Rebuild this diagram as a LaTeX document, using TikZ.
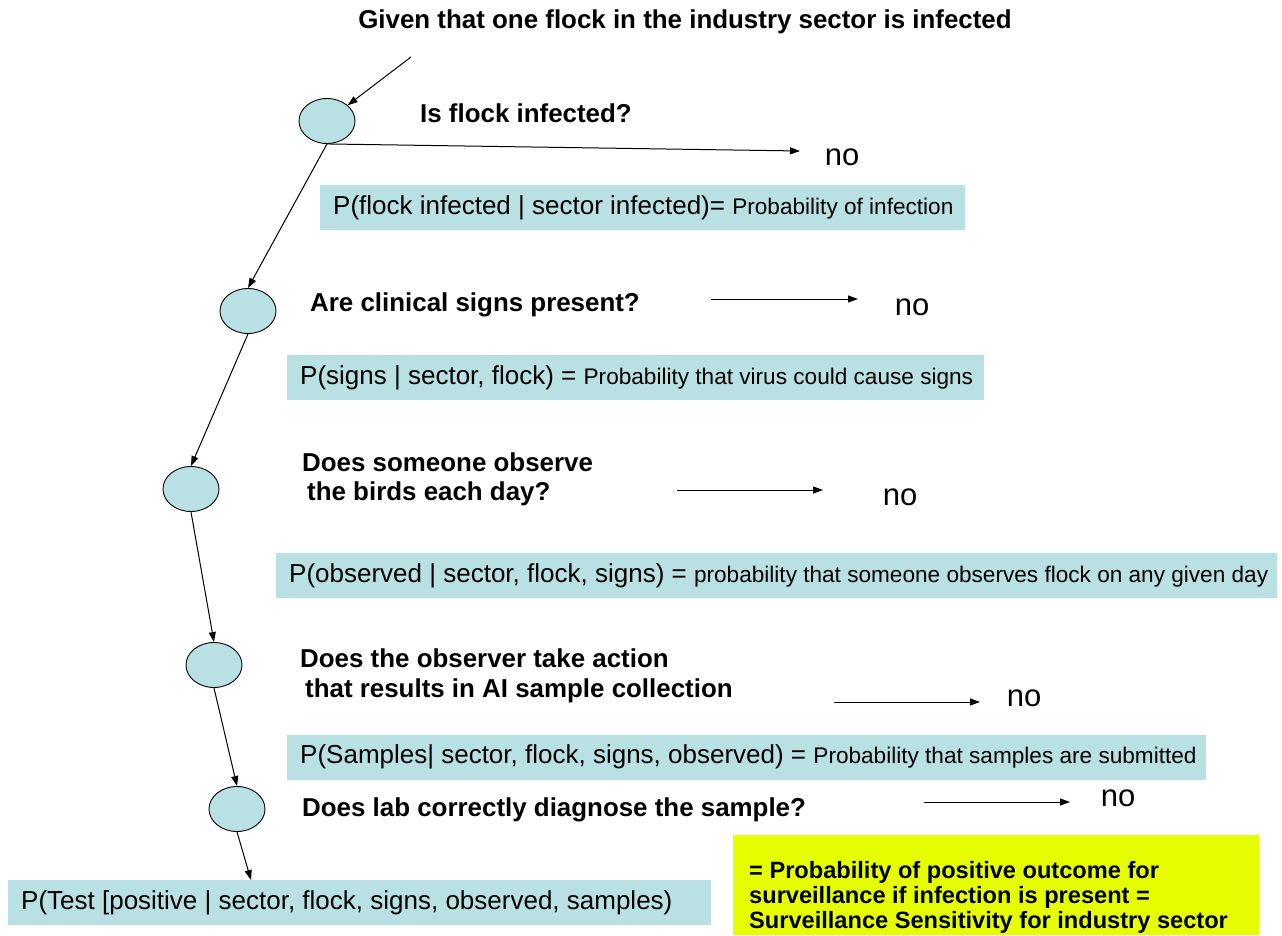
\documentclass[tikz,border=0pt]{standalone}
\usepackage{fontspec}
\setmainfont{Liberation Sans}
\usetikzlibrary{arrows.meta,shapes.geometric}
\definecolor{boxc}{RGB}{185,224,227}
\definecolor{yelc}{RGB}{229,255,0}
\newcommand\lgf{\fontsize{26}{30}\selectfont}
\newcommand\smf{\fontsize{22.6}{26}\selectfont}
\newcommand\qf{\fontsize{25.9}{29.5}\selectfont}
\newcommand\nsp{\spaceskip=0pt\xspaceskip=0pt\relax}
\begin{document}
\begin{tikzpicture}[x=1pt,y=-1pt,
  flock/.style={ellipse, draw, fill=boxc, minimum width=56pt, minimum height=45pt, inner sep=0pt, line width=0.9pt},
  q/.style={font=\bfseries\qf, anchor=west, inner sep=0pt, align=left},
  nolab/.style={font=\fontsize{31}{36}\selectfont, inner sep=0pt},
  pbox/.style={fill=boxc, font=\lgf, anchor=west, inner xsep=13pt, inner ysep=0pt, minimum height=45pt, align=left},
  conn/.style={line width=1pt, -{Triangle[length=10pt,width=7pt]}}]
\useasboundingbox (0,0) rectangle (1282,936);

% title
\node[font=\bfseries\qf, inner sep=0pt] (title) at (685,22) {Given that one flock in the industry sector is infected};

% flock nodes
\node[flock] (e1) at (327,121) {};
\node[flock] (e2) at (248,311) {};
\node[flock] (e3) at (191,489) {};
\node[flock] (e4) at (214,665) {};
\node[flock] (e5) at (237,809) {};

\coordinate (tstart) at (411,57);
\draw[conn] (tstart) -- (e1);

% step 1
\node[q] (q1) at (420,113) {\nsp Is flock infected?};
\coordinate (n1e) at (800,151);
\draw[conn] (e1.south) -- (n1e);
\node[nolab] (no1) at (842,157) {no};
\node[pbox, text width=619pt] (b1) at (320,207.5) {\nsp\mbox{\lgf P(flock infected | sector infected)= \smf Probability of infection}};
\draw[conn] (e1.south) -- (e2.north);

% step 2
\node[q] (q2) at (310,305) {\nsp Are clinical signs present?};
\coordinate (n2s) at (711,299);
\coordinate (n2e) at (858,299);
\draw[conn] (n2s) -- (n2e);
\node[nolab] (no2) at (912,307) {no};
\node[pbox, text width=671pt] (b2) at (287,377.5) {\nsp\mbox{\lgf P(signs | sector, flock) = \smf Probability that virus could cause signs}};
\draw[conn] (e2.south) -- (e3.north);

% step 3
\node[q] (q3) at (302,479.5) {\nsp Does someone observe\\\hspace*{5pt}the birds each day?};
\coordinate (n3s) at (677,490);
\coordinate (n3e) at (823,490);
\draw[conn] (n3s) -- (n3e);
\node[nolab] (no3) at (900,497) {no};
\node[pbox, text width=975pt] (b3) at (276,575.5) {\nsp\mbox{\lgf P(observed | sector, flock, signs) = \smf probability that someone observes flock on any given day}};
\draw[conn] (e3.south) -- (e4.north);

% step 4
\node[q] (q4) at (300,676) {\nsp Does the observer take action\\\hspace*{5pt}that results in AI sample collection};
\coordinate (n4s) at (834,702);
\coordinate (n4e) at (980,702);
\draw[conn] (n4s) -- (n4e);
\node[nolab] (no4) at (1024,698) {no};
\node[pbox, text width=893pt] (b4) at (287,757) {\nsp\mbox{\lgf P(Samples| sector, flock, signs, observed) = \smf Probability that samples are submitted}};
\draw[conn] (e4.south) -- (e5.north);

% step 5
\node[q] (q5) at (302,810) {\nsp Does lab correctly diagnose the sample?};
\coordinate (n5s) at (924,802);
\coordinate (n5e) at (1070,802);
\draw[conn] (n5s) -- (n5e);
\node[nolab] (no5) at (1118,798) {no};

% result
\node[pbox, text width=677pt] (b5) at (8,902.5) {\nsp\mbox{\lgf P(Test [positive | sector, flock, signs, observed, samples)}};
\coordinate (b5t) at (251,880);
\draw[conn] (e5.south) -- (b5t);

\node[fill=yelc, minimum width=526pt, minimum height=100pt, anchor=north west, inner sep=0pt] (ybox) at (733,835) {};
\node[font=\bfseries\fontsize{23.6}{25}\selectfont, align=left, anchor=west, inner sep=0pt] (ytext) at (749,897) {\nsp = Probability of positive outcome for\\surveillance if infection is present =\\Surveillance Sensitivity for industry sector};
\end{tikzpicture}
\end{document}
